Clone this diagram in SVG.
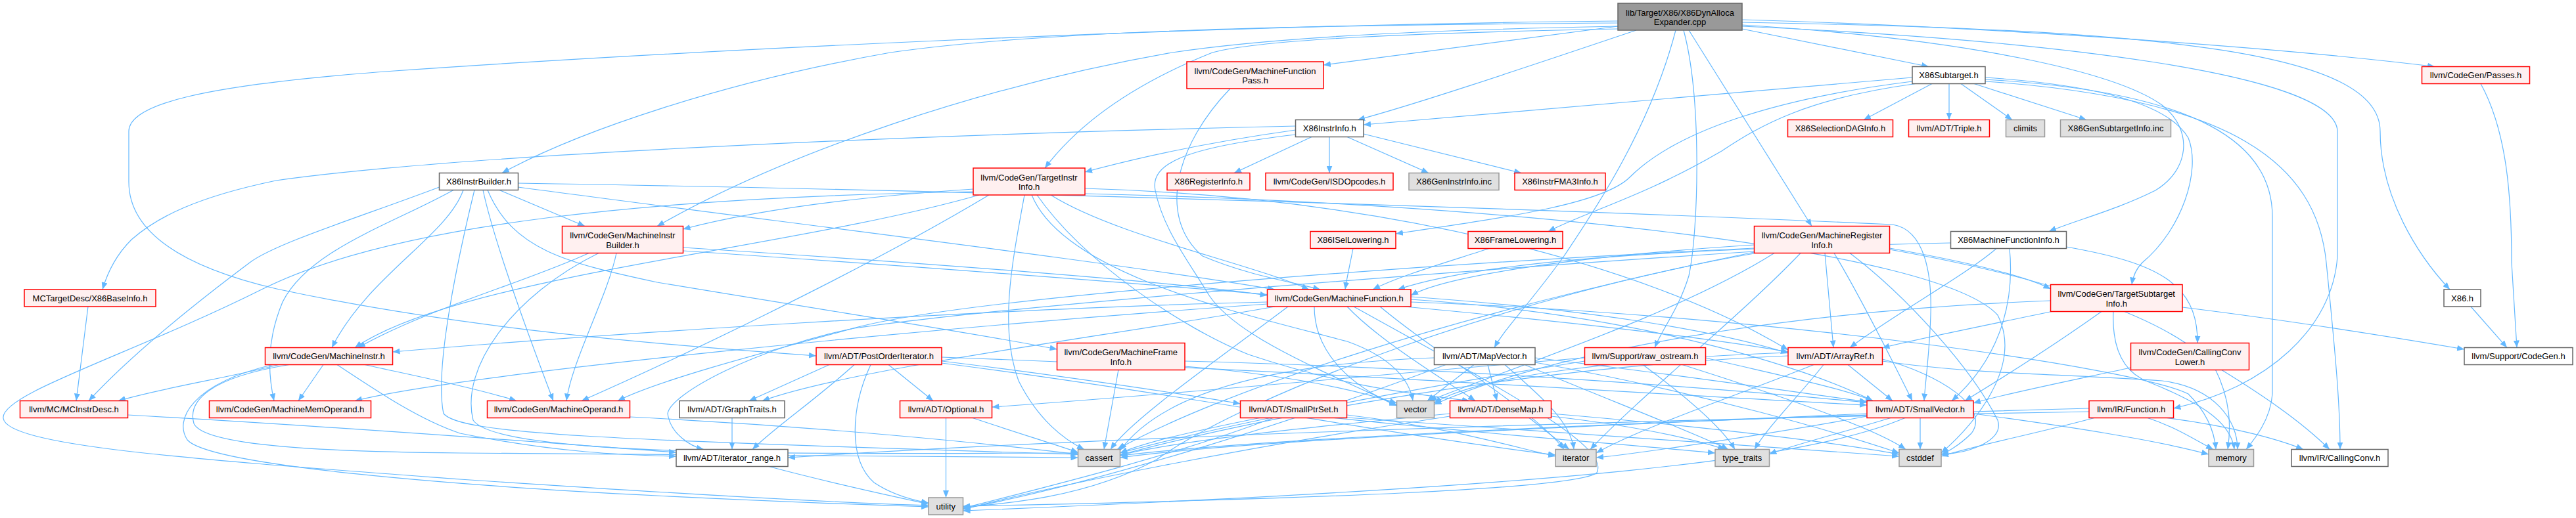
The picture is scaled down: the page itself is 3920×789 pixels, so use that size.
<svg xmlns="http://www.w3.org/2000/svg" width="3920" height="789" viewBox="0 0 3920 789">
<style>
.e{fill:none;stroke:#63B8FF;stroke-width:1.2;marker-end:url(#ah)}
rect{stroke-width:1.5}
.r rect{fill:#FFF0F0;stroke:#FF0000}
.w rect{fill:#FFFFFF;stroke:#666666}
.g rect{fill:#E0E0E0;stroke:#999999}
.root rect{fill:#999999;stroke:#666666}
text{font-family:"Liberation Sans",Arial,sans-serif;font-size:13px;text-anchor:middle;fill:#000}
</style>
<defs>
<marker id="ah" markerWidth="11" markerHeight="9" refX="11" refY="4.5" orient="auto" markerUnits="userSpaceOnUse"><path d="M0,0 L11,4.5 L0,9 z" fill="#63B8FF"/></marker>
</defs>
<rect x="0" y="0" width="3920" height="789" fill="#FFFFFF"/>
<g id="edges">
<path class="e" d="M2462,35 C2000,38 1600,45 1355,80 C1100,125 880,200 764,263.5"/>
<path class="e" d="M2462,40 C2200,45 1950,55 1784,80 C1500,130 1200,230 1000,344.5"/>
<path class="e" d="M2462,44 C2150,50 1920,60 1845,80 C1720,130 1640,190 1590,256"/>
<path class="e" d="M2462,40 L2014,99"/>
<path class="e" d="M2490,46 C2300,110 2150,160 2066,182.5"/>
<path class="e" d="M2651,44 L2935,101.5"/>
<path class="e" d="M2651,30 C3000,40 3450,70 3705,101.5"/>
<path class="e" d="M2570,46 L2757,344.5"/>
<path class="e" d="M2651,38 C3000,60 3220,110 3290,160 C3340,200 3330,260 3280,290 C3220,320 3160,335 3118,352.5"/>
<path class="e" d="M2651,34 C3300,45 3622,80 3622,200 C3622,300 3680,390 3728,441"/>
<path class="e" d="M2651,40 C3100,60 3555,110 3557,200 L3557,390 C3550,500 3450,590 3307.5,622"/>
<path class="e" d="M2462,32 C1800,38 1000,80 600,108 C300,130 196,160 196,200 L196,277 C196,340 250,400 421,440 C700,500 1000,525 1242,542"/>
<path class="e" d="M2550,46 C2510,200 2420,330 2380,390 C2330,460 2290,500 2274,529.5"/>
<path class="e" d="M2562,46 C2590,150 2585,350 2570,420 C2555,470 2530,500 2518,529.5"/>
<path class="e" d="M668.5,285 C550,330 420,370 380,400 C300,460 200,540 135,610.5"/>
<path class="e" d="M705,289.5 C680,360 560,420 505,529.5"/>
<path class="e" d="M690,289.5 C600,340 470,380 430,460 C405,520 408,570 417,610.5"/>
<path class="e" d="M735,289.5 C750,360 800,500 842,610.5"/>
<path class="e" d="M760,289.5 L890,344.5"/>
<path class="e" d="M742,289.5 C780,380 860,400 1000,430 C1300,480 1500,510 1608.5,532"/>
<path class="e" d="M788.5,285 C1200,340 1700,400 1940,441"/>
<path class="e" d="M788.5,279 C1500,290 2400,320 2880,342 C2930,350 2940,420 2938,480 C2936,540 2930,580 2928,610.5"/>
<path class="e" d="M722,289.5 C700,380 660,560 675,630 C700,660 900,670 1640.5,692"/>
<path class="e" d="M896,385.5 C800,430 650,470 545,529.5"/>
<path class="e" d="M911,385.5 C780,450 700,560 720,640 C760,700 1300,690 1640.5,690"/>
<path class="e" d="M938,385.5 C925,450 870,550 862,610.5"/>
<path class="e" d="M1039.5,377 C1400,400 1800,430 1928.5,450"/>
<path class="e" d="M1039.5,382 C1600,420 2400,480 2721,536"/>
<path class="e" d="M1481,288 C1300,300 1150,320 1039.5,349"/>
<path class="e" d="M1490,297 C1200,380 700,420 540,529.5"/>
<path class="e" d="M1505,297 C1300,420 1000,560 885,610.5"/>
<path class="e" d="M1481,292 C1000,300 600,340 400,440 C200,540 0,600 5,637 C10,680 300,700 700,730 C1000,750 1250,765 1413,770"/>
<path class="e" d="M1559,297 C1540,400 1520,500 1550,580 C1580,640 1620,670 1650,684.5"/>
<path class="e" d="M1578,297 C1650,400 1800,500 1900,540 C2050,590 2150,600 2236,610.5"/>
<path class="e" d="M1599,297 C1700,360 1900,400 1992,441"/>
<path class="e" d="M1651,287 C2100,300 2500,400 2721,533"/>
<path class="e" d="M1651,295 C2300,310 2950,380 3040,480 C3080,560 3000,650 2954,690"/>
<path class="e" d="M1570,297 C1620,420 1900,480 2050,520 C2120,545 2145,580 2150,610.5"/>
<path class="e" d="M1872,135 C1790,220 1760,330 1830,390 C1900,420 1970,430 2009,441"/>
<path class="e" d="M2023,208.5 L2023,263.5"/>
<path class="e" d="M2050,208.5 L2174,263.5"/>
<path class="e" d="M2075,204 L2315,263.5"/>
<path class="e" d="M1996,208.5 L1878,263.5"/>
<path class="e" d="M1971.5,198 C1850,215 1750,235 1651,262"/>
<path class="e" d="M1971.5,192 C1400,205 700,235 420,275 C300,300 240,330 200,365 C180,385 165,410 156,441"/>
<path class="e" d="M1971.5,205 C1800,225 1750,250 1758,290 C1770,350 1810,400 1840,450 C1880,510 2000,560 2125.5,617"/>
<path class="e" d="M2910,118 L2075,190"/>
<path class="e" d="M2910,124 C2700,150 2550,200 2480,270 C2440,310 2300,330 2124,356"/>
<path class="e" d="M2915,127.5 C2750,150 2680,190 2620,230 C2500,300 2420,320 2356,352.5"/>
<path class="e" d="M2940,127.5 L2836,182.5"/>
<path class="e" d="M2966,127.5 L2966,182.5"/>
<path class="e" d="M2984,127.5 L3062,182.5"/>
<path class="e" d="M3004,127.5 L3175,182.5"/>
<path class="e" d="M3021,118 C3200,130 3300,160 3330,210 C3350,260 3320,350 3260,400 C3250,410 3246,420 3244,433.5"/>
<path class="e" d="M3021,121 C3350,140 3458,220 3458,330 L3458,600 C3455,640 3430,670 3418,684.5"/>
<path class="e" d="M3021,124 C3400,150 3525,250 3540,400 C3555,550 3561,620 3561,684.5"/>
<path class="e" d="M3144.5,376 C3280,400 3345,430 3344,522.5"/>
<path class="e" d="M2968.5,370 C2500,380 2250,400 2127,441"/>
<path class="e" d="M3038,378.5 C2990,420 2880,480 2815,529.5"/>
<path class="e" d="M3058,378.5 C3065,450 3050,540 2970,610.5"/>
<path class="e" d="M2669.5,373 C2400,390 2200,420 2147,450"/>
<path class="e" d="M2669.5,378 C2200,400 1500,450 1310,497 C1150,540 1000,580 940,610.5"/>
<path class="e" d="M2669.5,383 C2100,420 1500,470 1300,500 C1150,530 1020,600 1016,630 C1020,660 1050,680 1071,684.5"/>
<path class="e" d="M2777,385.5 L2790,529.5"/>
<path class="e" d="M2791,385.5 C2830,450 2880,550 2910,610.5"/>
<path class="e" d="M2815,385.5 C2900,450 3000,560 3040,640 C3050,670 3000,690 2954,692"/>
<path class="e" d="M2875.5,380 C3100,420 3300,480 3370,560 C3395,610 3395,650 3390,684.5"/>
<path class="e" d="M2700,385.5 C2550,480 2300,560 2175,610.5"/>
<path class="e" d="M2740,385.5 C2650,480 2500,600 2420,684.5"/>
<path class="e" d="M2669.5,386 C2300,450 1900,600 1760,700 C1650,760 1520,768 1465.5,772"/>
<path class="e" d="M2669.5,384 C2200,480 1850,600 1700,684.5"/>
<path class="e" d="M2875.5,378 C3000,400 3080,420 3120.5,440"/>
<path class="e" d="M1928.5,460 C1500,470 900,510 597.5,536"/>
<path class="e" d="M1940,467 C1700,510 1300,560 1160,610.5"/>
<path class="e" d="M2050,467 C2100,520 2200,580 2245,610.5"/>
<path class="e" d="M2000,467 C2000,540 2060,590 2125.5,618"/>
<path class="e" d="M2100,467 C2200,550 2330,620 2380,684.5"/>
<path class="e" d="M2147,452 C2400,470 2600,500 2721,538"/>
<path class="e" d="M2147,456 C2500,480 2750,560 2850,610.5"/>
<path class="e" d="M1960,467 C1850,550 1720,640 1690,684.5"/>
<path class="e" d="M2147,460 C2700,480 3250,560 3330,600 C3360,630 3370,660 3372,684.5"/>
<path class="e" d="M2060,467 C2300,600 2450,680 2430,720 C2400,745 2000,760 1465.5,771"/>
<path class="e" d="M1928.5,463 C1400,500 700,570 540,610.5"/>
<path class="e" d="M2059,378.5 C2055,400 2050,420 2047,441"/>
<path class="e" d="M2266,378.5 C2200,400 2130,420 2089,441"/>
<path class="e" d="M424,555.5 C350,575 250,590 180,610.5"/>
<path class="e" d="M492,555.5 L454,610.5"/>
<path class="e" d="M555,555.5 C620,570 720,590 786,610.5"/>
<path class="e" d="M513,555.5 C580,600 640,640 700,660 C850,690 950,693 1029,695"/>
<path class="e" d="M440,555.5 C320,575 285,610 295,645 C310,680 500,688 700,690 C1100,694 1400,696 1640.5,697"/>
<path class="e" d="M415,555.5 C290,585 265,640 285,670 C320,710 700,740 1000,755 C1200,765 1350,770 1413,772"/>
<path class="e" d="M194.5,632 C600,655 900,680 1029,689"/>
<path class="e" d="M134,467 L116,610.5"/>
<path class="e" d="M958.5,635 C1250,650 1500,675 1640.5,692"/>
<path class="e" d="M1114,636.5 L1114,684.5"/>
<path class="e" d="M1170,710.5 C1280,740 1380,760 1413,768"/>
<path class="e" d="M1262,555.5 L1140,610.5"/>
<path class="e" d="M1300,555.5 C1240,610 1180,650 1145,684.5"/>
<path class="e" d="M1352,555.5 L1420,610.5"/>
<path class="e" d="M1325,555.5 C1295,620 1290,700 1330,735 C1360,755 1390,762 1413,766"/>
<path class="e" d="M1433,550 C1600,570 1800,600 1887.5,615"/>
<path class="e" d="M1433,544 C2000,565 2500,600 2841,617"/>
<path class="e" d="M1433,553 C1800,600 2100,660 2367,693"/>
<path class="e" d="M1702,563 L1680,684.5"/>
<path class="e" d="M1803,550 C2200,560 2600,590 2841,613"/>
<path class="e" d="M1803,558 C1950,570 2050,590 2125.5,614"/>
<path class="e" d="M1439.5,636.5 L1439.5,758"/>
<path class="e" d="M1480,636.5 C1550,660 1600,675 1640.5,689"/>
<path class="e" d="M1917,636.5 C1800,660 1740,675 1704.5,690"/>
<path class="e" d="M1937,636.5 C1800,690 1600,740 1465.5,774"/>
<path class="e" d="M2049.5,632 C2200,650 2300,680 2367,695"/>
<path class="e" d="M2049.5,636 C2400,660 2700,680 2890,695"/>
<path class="e" d="M2030,636.5 C2250,660 2450,675 2610,690"/>
<path class="e" d="M2327,636.5 L2388,684.5"/>
<path class="e" d="M2206.5,630 C2000,650 1800,670 1704.5,693"/>
<path class="e" d="M2206.5,634 C1900,680 1600,740 1465.5,776"/>
<path class="e" d="M2360.5,630 C2600,650 2800,675 2890,692"/>
<path class="e" d="M2360.5,634 C2500,650 2580,670 2625,684.5"/>
<path class="e" d="M2243,555.5 L2172,610.5"/>
<path class="e" d="M2264,555.5 L2278,610.5"/>
<path class="e" d="M2290,555.5 C2340,600 2390,640 2395,684.5"/>
<path class="e" d="M2336,545 C2550,570 2750,600 2841,612"/>
<path class="e" d="M2182.5,545 C1900,555 1760,610 1704.5,686"/>
<path class="e" d="M2336,552 C2600,600 2800,660 2890,690"/>
<path class="e" d="M2320,555.5 C2450,610 2580,660 2630,684.5"/>
<path class="e" d="M2200,555.5 C1950,650 1650,740 1465.5,775"/>
<path class="e" d="M2411.5,545 C2100,570 1800,600 1509.5,620"/>
<path class="e" d="M2595.5,545 C2700,570 2800,590 2850,610.5"/>
<path class="e" d="M2411.5,550 C2100,600 1850,650 1704.5,690"/>
<path class="e" d="M2560,555.5 C2700,600 2850,650 2900,684.5"/>
<path class="e" d="M2500,555.5 C2560,600 2620,650 2640,684.5"/>
<path class="e" d="M2812,555.5 L2880,610.5"/>
<path class="e" d="M2775,555.5 C2740,600 2690,650 2670,684.5"/>
<path class="e" d="M2721,542 C2300,560 1900,640 1704.5,693"/>
<path class="e" d="M2864.5,547 C2950,570 3030,620 3000,660 C2980,680 2960,690 2954,692"/>
<path class="e" d="M2760,555.5 C2650,600 2500,650 2429,690"/>
<path class="e" d="M2864.5,550 C3000,570 3150,570 3290,580 C3370,590 3405,640 3405,684.5"/>
<path class="e" d="M2721,537 C2500,545 2250,570 2182.5,614"/>
<path class="e" d="M2922,636.5 L2922,684.5"/>
<path class="e" d="M2877,636.5 C2800,660 2720,680 2692.5,692"/>
<path class="e" d="M2899,636.5 C2750,700 2400,740 1465.5,778"/>
<path class="e" d="M2841,630 C2400,650 1900,670 1704.5,697"/>
<path class="e" d="M2841,634 C2700,660 2500,690 2429,697"/>
<path class="e" d="M3003,630 C3150,650 3280,670 3361,692"/>
<path class="e" d="M3321,468 C3500,490 3650,515 3750,532"/>
<path class="e" d="M3122,474.5 C3000,500 2900,520 2864.5,530"/>
<path class="e" d="M3198,474.5 C3120,530 3040,580 2990,610.5"/>
<path class="e" d="M3216,474.5 C3214,520 3225,565 3270,582 C3340,610 3395,640 3400,684.5"/>
<path class="e" d="M3120.5,458 C2800,470 2400,520 2182.5,616"/>
<path class="e" d="M3380,563 C3440,600 3500,640 3545,684.5"/>
<path class="e" d="M3242.5,560 C3150,580 3050,600 3003,614"/>
<path class="e" d="M3297,636.5 C3400,650 3470,670 3505,684.5"/>
<path class="e" d="M3268,636.5 C3310,650 3340,670 3368,684.5"/>
<path class="e" d="M3187,636.5 C3100,660 3000,680 2954,695"/>
<path class="e" d="M3179,627 C2400,640 1600,670 1199,697"/>
<path class="e" d="M3179,622 C2500,640 1900,670 1704.5,694"/>
<path class="e" d="M3775,127.5 C3815,200 3822,300 3822,400 L3830,529.5"/>
<path class="e" d="M3760,467 L3815,529.5"/>
</g>
<g id="n-root" class="root"><rect x="2462" y="5" width="189" height="41"/><text x="2556.5" y="23.5">lib/Target/X86/X86DynAlloca</text><text x="2556.5" y="38">Expander.cpp</text></g>
<g id="n-ib" class="w"><rect x="668.5" y="263.5" width="120" height="26"/><text x="728.5" y="281">X86InstrBuilder.h</text></g>
<g id="n-mib" class="r"><rect x="855.5" y="344.5" width="184" height="41"/><text x="947.5" y="363">llvm/CodeGen/MachineInstr</text><text x="947.5" y="377.5">Builder.h</text></g>
<g id="n-tii" class="r"><rect x="1481" y="256" width="170" height="41"/><text x="1566" y="274.5">llvm/CodeGen/TargetInstr</text><text x="1566" y="289">Info.h</text></g>
<g id="n-mfp" class="r"><rect x="1806" y="94" width="208" height="41"/><text x="1910" y="112.5">llvm/CodeGen/MachineFunction</text><text x="1910" y="127">Pass.h</text></g>
<g id="n-x86ri" class="r"><rect x="1776" y="263.5" width="126" height="26"/><text x="1839" y="281">X86RegisterInfo.h</text></g>
<g id="n-isd" class="r"><rect x="1926" y="263.5" width="194" height="26"/><text x="2023" y="281">llvm/CodeGen/ISDOpcodes.h</text></g>
<g id="n-geninstr" class="g"><rect x="2144" y="263.5" width="137" height="26"/><text x="2212.5" y="281">X86GenInstrInfo.inc</text></g>
<g id="n-fma3" class="r"><rect x="2305" y="263.5" width="138" height="26"/><text x="2374" y="281">X86InstrFMA3Info.h</text></g>
<g id="n-x86ii" class="w"><rect x="1971.5" y="182.5" width="103.5" height="26"/><text x="2023.25" y="200">X86InstrInfo.h</text></g>
<g id="n-isel" class="r"><rect x="1994" y="352.5" width="130" height="26"/><text x="2059" y="370">X86ISelLowering.h</text></g>
<g id="n-frame" class="r"><rect x="2234" y="352.5" width="144" height="26"/><text x="2306" y="370">X86FrameLowering.h</text></g>
<g id="n-subt" class="w"><rect x="2910" y="101.5" width="111" height="26"/><text x="2965.5" y="119">X86Subtarget.h</text></g>
<g id="n-dag" class="r"><rect x="2720.5" y="182.5" width="160" height="26"/><text x="2800.5" y="200">X86SelectionDAGInfo.h</text></g>
<g id="n-triple" class="r"><rect x="2904.5" y="182.5" width="123" height="26"/><text x="2966" y="200">llvm/ADT/Triple.h</text></g>
<g id="n-climits" class="g"><rect x="3052.5" y="182.5" width="59" height="26"/><text x="3082" y="200">climits</text></g>
<g id="n-gensub" class="g"><rect x="3135.5" y="182.5" width="168" height="26"/><text x="3219.5" y="200">X86GenSubtargetInfo.inc</text></g>
<g id="n-mri" class="r"><rect x="2669.5" y="344.5" width="206" height="41"/><text x="2772.5" y="363">llvm/CodeGen/MachineRegister</text><text x="2772.5" y="377.5">Info.h</text></g>
<g id="n-x86mfi" class="w"><rect x="2968.5" y="352.5" width="176" height="26"/><text x="3056.5" y="370">X86MachineFunctionInfo.h</text></g>
<g id="n-passes" class="r"><rect x="3685.5" y="101.5" width="164" height="26"/><text x="3767.5" y="119">llvm/CodeGen/Passes.h</text></g>
<g id="n-basei" class="r"><rect x="37" y="441" width="200" height="26"/><text x="137" y="458.5">MCTargetDesc/X86BaseInfo.h</text></g>
<g id="n-mcid" class="r"><rect x="30.5" y="610.5" width="164" height="26"/><text x="112.5" y="628">llvm/MC/MCInstrDesc.h</text></g>
<g id="n-mi" class="r"><rect x="403.5" y="529.5" width="194" height="26"/><text x="500.5" y="547">llvm/CodeGen/MachineInstr.h</text></g>
<g id="n-mmo" class="r"><rect x="318.5" y="610.5" width="246" height="26"/><text x="441.5" y="628">llvm/CodeGen/MachineMemOperand.h</text></g>
<g id="n-mo" class="r"><rect x="741.5" y="610.5" width="217" height="26"/><text x="850" y="628">llvm/CodeGen/MachineOperand.h</text></g>
<g id="n-gt" class="w"><rect x="1034" y="610.5" width="160" height="26"/><text x="1114" y="628">llvm/ADT/GraphTraits.h</text></g>
<g id="n-ir" class="w"><rect x="1029" y="684.5" width="170" height="26"/><text x="1114" y="702">llvm/ADT/iterator_range.h</text></g>
<g id="n-poi" class="r"><rect x="1242" y="529.5" width="191" height="26"/><text x="1337.5" y="547">llvm/ADT/PostOrderIterator.h</text></g>
<g id="n-mfi" class="r"><rect x="1608.5" y="522.5" width="194.5" height="41"/><text x="1705.75" y="541">llvm/CodeGen/MachineFrame</text><text x="1705.75" y="555.5">Info.h</text></g>
<g id="n-opt" class="r"><rect x="1369.5" y="610.5" width="140" height="26"/><text x="1439.5" y="628">llvm/ADT/Optional.h</text></g>
<g id="n-cassert" class="g"><rect x="1640.5" y="684.5" width="64" height="26"/><text x="1672.5" y="702">cassert</text></g>
<g id="n-utility" class="g"><rect x="1413" y="758" width="52.5" height="26"/><text x="1439.25" y="775.5">utility</text></g>
<g id="n-mf" class="r"><rect x="1928.5" y="441" width="218.5" height="26"/><text x="2037.75" y="458.5">llvm/CodeGen/MachineFunction.h</text></g>
<g id="n-sps" class="r"><rect x="1887.5" y="610.5" width="162" height="26"/><text x="1968.5" y="628">llvm/ADT/SmallPtrSet.h</text></g>
<g id="n-vector" class="g"><rect x="2125.5" y="610.5" width="57" height="26"/><text x="2154" y="628">vector</text></g>
<g id="n-dm" class="r"><rect x="2206.5" y="610.5" width="154" height="26"/><text x="2283.5" y="628">llvm/ADT/DenseMap.h</text></g>
<g id="n-mv" class="w"><rect x="2182.5" y="529.5" width="153.5" height="26"/><text x="2259.25" y="547">llvm/ADT/MapVector.h</text></g>
<g id="n-rawos" class="r"><rect x="2411.5" y="529.5" width="184" height="26"/><text x="2503.5" y="547">llvm/Support/raw_ostream.h</text></g>
<g id="n-iter" class="g"><rect x="2367" y="684.5" width="62" height="26"/><text x="2398" y="702">iterator</text></g>
<g id="n-aref" class="r"><rect x="2721" y="529.5" width="143.5" height="26"/><text x="2792.75" y="547">llvm/ADT/ArrayRef.h</text></g>
<g id="n-svec" class="r"><rect x="2841" y="610.5" width="162" height="26"/><text x="2922" y="628">llvm/ADT/SmallVector.h</text></g>
<g id="n-tt" class="g"><rect x="2610" y="684.5" width="82.5" height="26"/><text x="2651.25" y="702">type_traits</text></g>
<g id="n-cstddef" class="g"><rect x="2890" y="684.5" width="64" height="26"/><text x="2922" y="702">cstddef</text></g>
<g id="n-tsi" class="r"><rect x="3120.5" y="433.5" width="200.5" height="41"/><text x="3220.75" y="452">llvm/CodeGen/TargetSubtarget</text><text x="3220.75" y="466.5">Info.h</text></g>
<g id="n-ccl" class="r"><rect x="3242.5" y="522.5" width="180" height="41"/><text x="3332.5" y="541">llvm/CodeGen/CallingConv</text><text x="3332.5" y="555.5">Lower.h</text></g>
<g id="n-fn" class="r"><rect x="3179" y="610.5" width="128.5" height="26"/><text x="3243.25" y="628">llvm/IR/Function.h</text></g>
<g id="n-memory" class="g"><rect x="3361" y="684.5" width="68.5" height="26"/><text x="3395.25" y="702">memory</text></g>
<g id="n-cc" class="w"><rect x="3487" y="684.5" width="147" height="26"/><text x="3560.5" y="702">llvm/IR/CallingConv.h</text></g>
<g id="n-x86h" class="w"><rect x="3719" y="441" width="56" height="26"/><text x="3747" y="458.5">X86.h</text></g>
<g id="n-cg" class="w"><rect x="3750" y="529.5" width="165" height="26"/><text x="3832.5" y="547">llvm/Support/CodeGen.h</text></g>
</svg>
